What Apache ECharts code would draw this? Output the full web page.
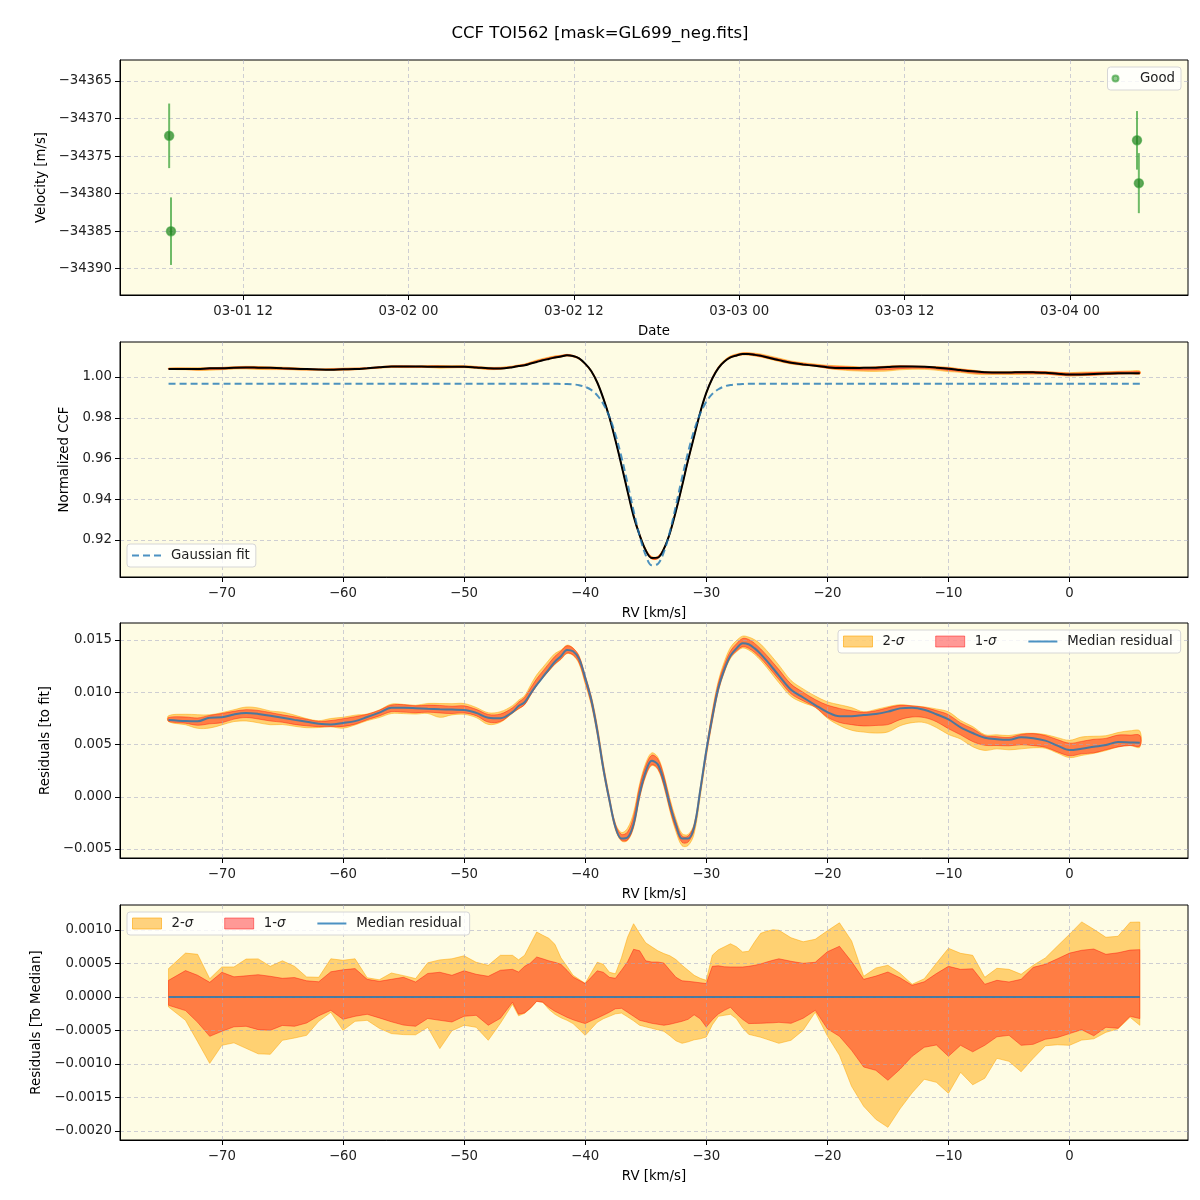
<!DOCTYPE html>
<html>
<head>
<meta charset="utf-8">
<script src="https://cdn.jsdelivr.net/npm/echarts@6/dist/echarts.min.js"></script>
<style>
  html, body { margin: 0; background: #fff; }
  #main { width: 1200px; height: 1200px; }
</style>
</head>
<body>
<div id="main"></div>
<script>
// ---- panel 1 : velocity vs date
const obsDates = ['2021-03-01T06:38:00Z', '2021-03-01T06:46:00Z', '2021-03-04T04:52:00Z', '2021-03-04T05:00:00Z'];
const obsVel = [-34372.3, -34385.0, -34372.9, -34378.6];
const obsErr = [4.3, 4.5, 3.9, 4.0];
const dateTicks = ['2021-03-01T12:00:00Z', '2021-03-02T00:00:00Z', '2021-03-02T12:00:00Z',
                   '2021-03-03T00:00:00Z', '2021-03-03T12:00:00Z', '2021-03-04T00:00:00Z'];
const dateMin = '2021-03-01T03:04:00Z', dateMax = '2021-03-04T08:34:00Z';
const velTicks = [-34390, -34385, -34380, -34375, -34370, -34365];

// ---- RV grid shared by the CCF panels
const rv = [-74.4, -73, -72, -71, -70, -69, -68, -67, -66, -65, -64, -63, -62, -61, -60, -59, -58, -57, -56, -55,
  -54, -53, -52, -51, -50, -49, -48, -47, -46,
  -45.5, -45, -44.5, -44, -43.5, -43, -42.5, -42, -41.5, -41, -40.5, -40, -39.5, -39, -38.5, -38, -37.5, -37,
  -36.5, -36, -35.5, -35, -34.5, -34, -33.5, -33, -32.5, -32, -31.5, -31, -30.5, -30, -29.5, -29, -28.5, -28,
  -27.5, -27, -26.5, -26, -25.5, -25, -24.5, -24,
  -23, -22, -21, -20, -19, -18, -17, -16, -15, -14, -13, -12, -11, -10, -9, -8, -7, -6, -5, -4, -3, -2, -1,
  0, 1, 2, 3, 4, 5, 5.8];
const rvTicks = [-70, -60, -50, -40, -30, -20, -10, 0];

// normalized CCF (median) and gaussian fit
const ccf = [1.0040, 1.0039, 1.0039, 1.0043, 1.0043, 1.0046, 1.0047, 1.0046, 1.0045, 1.0043, 1.0041, 1.0039,
  1.0037, 1.0036, 1.0038, 1.0039, 1.0043, 1.0048, 1.0052, 1.0052, 1.0052, 1.0051, 1.0051, 1.0050, 1.0050,
  1.0047, 1.0043, 1.0042, 1.0048,
  1.0054, 1.0058, 1.0066, 1.0074, 1.0082, 1.0089, 1.0096, 1.0101, 1.0107, 1.0103, 1.0092, 1.0066, 1.0030,
  0.9973, 0.9895, 0.9802, 0.9689, 0.9567, 0.9439, 0.9317, 0.9223, 0.9149, 0.9111, 0.9113, 0.9156, 0.9234,
  0.9343, 0.9465, 0.9592, 0.9709, 0.9826, 0.9922, 0.9993, 1.0044, 1.0076, 1.0096, 1.0106, 1.0113, 1.0113,
  1.0109, 1.0104, 1.0097, 1.0090, 1.0083,
  1.0070, 1.0062, 1.0055, 1.0048, 1.0044, 1.0044, 1.0045, 1.0046, 1.0049, 1.0052, 1.0052, 1.0050, 1.0046,
  1.0041, 1.0034, 1.0028, 1.0024, 1.0022, 1.0022, 1.0024, 1.0023, 1.0021, 1.0016, 1.0012, 1.0013, 1.0015,
  1.0017, 1.0019, 1.0019, 1.0019];
const gaussFit = [0.9967, 0.9967, 0.9967, 0.9967, 0.9967, 0.9967, 0.9967, 0.9967, 0.9967, 0.9967, 0.9967,
  0.9967, 0.9967, 0.9967, 0.9967, 0.9967, 0.9967, 0.9967, 0.9967, 0.9967, 0.9967, 0.9967, 0.9967, 0.9967,
  0.9967, 0.9967, 0.9967, 0.9967, 0.9967,
  0.9967, 0.9967, 0.9967, 0.9967, 0.9967, 0.9967, 0.9967, 0.9966, 0.9966, 0.9964, 0.9960, 0.9952, 0.9937,
  0.9910, 0.9868, 0.9805, 0.9718, 0.9607, 0.9478, 0.9343, 0.9220, 0.9125, 0.9076, 0.9082, 0.9141, 0.9242,
  0.9370, 0.9505, 0.9631, 0.9738, 0.9820, 0.9878, 0.9917, 0.9940, 0.9954, 0.9961, 0.9964, 0.9966, 0.9967,
  0.9967, 0.9967, 0.9967, 0.9967, 0.9967,
  0.9967, 0.9967, 0.9967, 0.9967, 0.9967, 0.9967, 0.9967, 0.9967, 0.9967, 0.9967, 0.9967, 0.9967, 0.9967,
  0.9967, 0.9967, 0.9967, 0.9967, 0.9967, 0.9967, 0.9967, 0.9967, 0.9967, 0.9967, 0.9967, 0.9967, 0.9967,
  0.9967, 0.9967, 0.9967, 0.9967];

// median residual to the fit
const medResid = [0.00734, 0.00724, 0.00722, 0.00757, 0.00760, 0.00788, 0.00802, 0.00793, 0.00775, 0.00756,
  0.00736, 0.00718, 0.00699, 0.00692, 0.00706, 0.00724, 0.00763, 0.00805, 0.00851, 0.00852, 0.00848, 0.00842,
  0.00837, 0.00834, 0.00831, 0.00803, 0.00757, 0.00752, 0.00810,
  0.00868, 0.00905, 0.00990, 0.01070, 0.01145, 0.01220, 0.01292, 0.01345, 0.01405, 0.01392, 0.01320, 0.01140,
  0.00930, 0.00630, 0.00270, -0.00030, -0.00290, -0.00400, -0.00390, -0.00260, 0.00030, 0.00240, 0.00345,
  0.00310, 0.00150, -0.00080, -0.00270, -0.00400, -0.00400, -0.00290, 0.00060, 0.00440, 0.00760, 0.01040,
  0.01220, 0.01350, 0.01420, 0.01470, 0.01460, 0.01420, 0.01365, 0.01300, 0.01230, 0.01160,
  0.01025, 0.00950, 0.00878, 0.00810, 0.00770, 0.00770, 0.00782, 0.00792, 0.00815, 0.00846, 0.00852, 0.00833,
  0.00790, 0.00740, 0.00665, 0.00610, 0.00565, 0.00550, 0.00545, 0.00570, 0.00560, 0.00537, 0.00490, 0.00447,
  0.00460, 0.00478, 0.00495, 0.00524, 0.00520, 0.00517];

// spread around the median, in units of 1e-4
const hi2 = [4.24, 6.55, 6.37, 2.72, 4.48, 4.48, 5.66, 5.69, 4.58, 5.40, 4.58, 2.99, 2.94, 5.70, 5.48, 5.70, 2.87,
  2.57, 3.58, 3.19, 2.75, 5.10, 5.54, 5.70, 6.15, 5.18, 4.73, 6.22, 6.22,
  5.55, 6.22, 7.97, 9.70, 9.21, 8.76, 7.87, 5.85, 4.58, 3.24, 2.64, 2.04, 3.61, 5.18, 4.88, 3.69, 3.46, 5.85,
  8.91, 10.93, 9.46, 8.09, 7.49, 6.90, 6.48, 6.15, 5.58, 4.73, 3.99, 3.24, 2.79, 2.49, 6.22, 7.04, 7.49, 7.94,
  7.49, 6.72, 6.82, 8.24, 9.51, 9.81, 10.03, 9.96,
  8.84, 8.24, 8.61, 9.88, 11.07, 8.37, 3.09, 4.33, 4.73, 3.54, 1.90, 2.72, 5.03, 7.27, 6.52, 6.22, 2.94, 4.28,
  4.13, 3.39, 4.73, 5.82, 7.60, 9.36, 11.21, 10.10, 8.91, 9.06, 11.15, 11.19];
const hi1 = [2.49, 3.94, 3.24, 2.19, 3.69, 3.01, 3.16, 3.33, 3.09, 2.79, 2.90, 2.42, 2.27, 3.76, 4.06, 4.24, 2.64,
  2.34, 2.64, 2.94, 2.24, 3.51, 3.69, 3.24, 3.91, 3.39, 3.09, 3.99, 4.13,
  3.73, 4.58, 5.10, 5.97, 5.70, 5.40, 5.18, 4.88, 3.99, 2.99, 2.49, 2.00, 2.94, 3.91, 3.69, 2.94, 2.79, 3.99,
  5.25, 7.12, 6.90, 5.40, 5.22, 5.22, 5.07, 3.99, 2.94, 2.42, 2.34, 2.24, 2.12, 2.00, 4.58, 4.66, 4.51, 4.48,
  4.48, 4.48, 4.58, 4.73, 4.94, 5.22, 5.48, 5.70,
  5.33, 5.03, 5.18, 6.75, 7.57, 5.28, 2.64, 3.12, 3.73, 2.87, 1.75, 2.27, 3.49, 4.58, 4.13, 4.21, 1.90, 2.49,
  2.24, 2.64, 4.43, 4.88, 5.70, 6.55, 6.97, 7.16, 6.37, 6.60, 7.00, 7.07];
const lo1 = [-1.24, -2.03, -3.78, -5.87, -5.12, -4.45, -4.37, -4.87, -4.97, -4.25, -4.37, -3.88, -2.81, -1.99,
  -3.33, -2.88, -2.58, -3.12, -3.70, -4.19, -4.37, -3.21, -3.48, -3.73, -2.88, -2.73, -4.22, -3.18, -0.79,
  -2.58, -2.37, -1.61, -0.64, -0.79, -1.54, -2.13, -2.58, -3.03, -3.40, -3.70, -3.97, -3.55, -3.15, -2.73,
  -2.28, -1.76, -1.69, -2.28, -2.88, -3.48, -3.70, -3.93, -4.07, -4.22, -4.07, -3.85, -3.63, -3.33, -2.66,
  -3.25, -4.48, -3.40, -2.54, -1.99, -1.54, -2.51, -3.33, -3.97, -3.94, -3.93, -3.88, -3.85, -3.78,
  -3.93, -3.18, -1.99, -4.75, -5.87, -7.96, -10.45, -10.94, -12.43, -10.79, -8.85, -7.51, -7.16, -8.85, -7.21,
  -8.18, -7.21, -5.94, -5.72, -7.21, -7.06, -6.31, -6.04, -5.46, -4.88, -5.79, -4.52, -4.67, -2.88, -3.22];
const lo2 = [-1.49, -3.48, -6.67, -9.90, -7.21, -6.84, -7.66, -8.48, -8.55, -6.46, -6.12, -5.72, -3.63, -2.28,
  -4.97, -3.63, -3.48, -4.67, -5.46, -5.61, -5.64, -4.52, -7.70, -5.04, -4.22, -4.52, -6.46, -3.93, -1.09,
  -2.81, -2.43, -1.69, -0.64, -0.79, -1.84, -2.58, -3.10, -3.48, -3.97, -4.82, -5.72, -4.75, -3.78, -3.25,
  -2.88, -2.51, -2.40, -2.96, -3.55, -4.22, -4.45, -4.67, -4.90, -5.12, -5.79, -6.54, -6.91, -6.69, -6.39,
  -6.24, -5.97, -4.15, -2.88, -2.73, -2.58, -3.25, -4.60, -5.57, -5.79, -6.01, -6.31, -6.61, -6.91,
  -6.46, -4.97, -2.28, -5.79, -8.70, -13.33, -16.31, -18.25, -19.45, -16.69, -14.30, -12.28, -12.73, -14.37,
  -11.24, -13.10, -12.13, -9.15, -9.60, -11.16, -9.15, -7.28, -7.13, -7.21, -6.43, -6.24, -5.27, -4.75, -3.03,
  -4.22];

const ccfTicks = [0.92, 0.94, 0.96, 0.98, 1.00];
const resTicks = [-0.005, 0, 0.005, 0.010, 0.015];
const medTicks = [-0.002, -0.0015, -0.001, -0.0005, 0, 0.0005, 0.001];

// ---------------------------------------------------------------
const FONT = 'DejaVu Sans';
const BG = '#fefce4';
const GRIDLINE = 'rgba(165,168,195,0.55)';
const C2 = 'rgba(255,165,0,0.5)';
const C1 = 'rgba(255,0,0,0.4)';
const BLUE = 'rgba(31,119,180,0.8)';
const SMOOTH = 0.35;

const ms = s => new Date(s).getTime();
const pad2 = n => String(n).padStart(2, '0');
function fmt(v, d) {
  const s = Math.abs(v) < 1e-12 ? (0).toFixed(d) : v.toFixed(d);
  return s.replace('-', '\u2212');
}
const E4 = 1e-4;
const pairs = (ys) => rv.map((x, i) => [x, ys[i]]);

function baseAxis(gi, extra) {
  return Object.assign({
    gridIndex: gi,
    type: 'value',
    z: 3,
    nameLocation: 'middle',
    nameTextStyle: { fontFamily: FONT, fontSize: 13.3, color: '#000' },
    axisLine: { show: true, onZero: false, lineStyle: { color: '#000', width: 1 } },
    axisTick: { show: true, length: 5, lineStyle: { color: '#000' } },
    axisLabel: { fontFamily: FONT, fontSize: 13.3, color: '#222', margin: 10 },
    splitLine: { show: true, lineStyle: { color: GRIDLINE, type: [4, 3], width: 1 } }
  }, extra);
}

function rvAxis(gi) {
  const ax = baseAxis(gi, { min: -78.41, max: 9.78, name: 'RV [km/s]', nameGap: 30 });
  ax.axisTick.customValues = rvTicks;
  ax.axisLabel.customValues = rvTicks;
  ax.axisLabel.formatter = v => fmt(v, 0);
  return ax;
}

function yAxisFor(gi, min, max, ticks, name, gap, dec) {
  const ax = baseAxis(gi, { min: min, max: max, name: name, nameGap: gap });
  ax.axisTick.customValues = ticks;
  ax.axisLabel.customValues = ticks;
  ax.axisLabel.margin = 8;
  ax.axisLabel.formatter = v => fmt(v, dec);
  return ax;
}

// filled band between lower and upper, one polygon through the axis scales
function band(gi, name, lower, upper, color, smooth) {
  return {
    name: name, type: 'custom', xAxisIndex: gi, yAxisIndex: gi, z: 2, silent: true,
    itemStyle: { color: color },
    data: [[rv[0], lower[0]]],
    renderItem: function (params, api) {
      const pts = [];
      for (let i = 0; i < rv.length; i++) pts.push(api.coord([rv[i], upper[i]]));
      for (let i = rv.length - 1; i >= 0; i--) pts.push(api.coord([rv[i], lower[i]]));
      return {
        type: 'polygon',
        shape: { points: pts, smooth: smooth },
        style: { fill: color, stroke: color, lineWidth: 1 }
      };
    }
  };
}

const res2lo = medResid.map((m, i) => m + lo2[i] * E4);
const res2hi = medResid.map((m, i) => m + hi2[i] * E4);
const res1lo = medResid.map((m, i) => m + lo1[i] * E4);
const res1hi = medResid.map((m, i) => m + hi1[i] * E4);
const ccf2lo = ccf.map((m, i) => m + lo2[i] * E4);
const ccf2hi = ccf.map((m, i) => m + hi2[i] * E4);
const ccf1lo = ccf.map((m, i) => m + lo1[i] * E4);
const ccf1hi = ccf.map((m, i) => m + hi1[i] * E4);
const off2lo = lo2.map(v => v * E4), off2hi = hi2.map(v => v * E4);
const off1lo = lo1.map(v => v * E4), off1hi = hi1.map(v => v * E4);
const zeroLine = rv.map(() => 0);

const gridBox = top => ({
  left: 120, width: 1068, top: top, height: 235, show: true,
  backgroundColor: BG, borderColor: '#000', borderWidth: 1
});

const legendBase = {
  orient: 'horizontal', z: 10,
  backgroundColor: 'rgba(255,255,255,0.8)', borderColor: '#d6d6d6', borderWidth: 1, borderRadius: 3,
  itemWidth: 29, itemHeight: 11,
  textStyle: {
    fontFamily: FONT, fontSize: 13.3, color: '#222', padding: [0, 0, 0, 5],
    rich: { i: { fontFamily: FONT, fontStyle: 'italic', fontSize: 13.3, color: '#222' } }
  },
  formatter: n => n.replace('\u03c3', '{i|\u03c3}')
};
// line entries: hide the marker that ECharts adds to line icons
const hideMarker = { opacity: 0 };
const sigmaLegendData = [
  { name: '2-\u03c3', icon: 'rect', itemStyle: { color: C2, borderColor: 'rgba(255,165,0,0.6)', borderWidth: 1 } },
  { name: '1-\u03c3', icon: 'rect', itemStyle: { color: C1, borderColor: 'rgba(255,0,0,0.45)', borderWidth: 1 } },
  { name: 'Median residual', itemStyle: hideMarker }
];

const dateTickMs = dateTicks.map(ms);
const p1x = baseAxis(0, { min: ms(dateMin), max: ms(dateMax), name: 'Date', nameGap: 30 });
p1x.axisTick.customValues = dateTickMs;
p1x.axisLabel.customValues = dateTickMs;
p1x.axisLabel.formatter = v => {
  const d = new Date(v);
  return pad2(d.getUTCMonth() + 1) + '-' + pad2(d.getUTCDate()) + ' ' + pad2(d.getUTCHours());
};

const option = {
  animation: false,
  backgroundColor: '#fff',
  textStyle: { fontFamily: FONT },
  title: {
    text: 'CCF TOI562 [mask=GL699_neg.fits]', left: 'center', top: 20,
    textStyle: { fontFamily: FONT, fontSize: 16.5, fontWeight: 'normal', color: '#000' }
  },
  grid: [gridBox(60), gridBox(342), gridBox(623), gridBox(905)],
  xAxis: [p1x, rvAxis(1), rvAxis(2), rvAxis(3)],
  yAxis: [
    yAxisFor(0, -34393.5, -34362.2, velTicks, 'Velocity [m/s]', 72, 0),
    yAxisFor(1, 0.9018, 1.0172, ccfTicks, 'Normalized CCF', 46, 2),
    yAxisFor(2, -0.00586, 0.01663, resTicks, 'Residuals [to fit]', 67, 3),
    yAxisFor(3, -0.002134, 0.001373, medTicks, 'Residuals [To Median]', 76, 4)
  ],
  legend: [
    Object.assign({}, legendBase, {
      right: 19, top: 67, padding: [5, 6, 5, 4], itemHeight: 6,
      data: [{ name: 'Good', icon: 'circle', itemStyle: { color: 'rgba(40,150,40,0.65)' } }]
    }),
    Object.assign({}, legendBase, {
      left: 127, top: 544, padding: [5, 6, 5, 4],
      data: [{ name: 'Gaussian fit', itemStyle: hideMarker }]
    }),
    Object.assign({}, legendBase, {
      left: 838, top: 630, padding: [5, 8, 5, 5], itemGap: 31,
      data: sigmaLegendData
    }),
    Object.assign({}, legendBase, {
      left: 127, top: 912, padding: [5, 8, 5, 5], itemGap: 31,
      data: sigmaLegendData
    })
  ],
  series: [
    // panel 1
    {
      name: 'errbars', type: 'custom', xAxisIndex: 0, yAxisIndex: 0, z: 4, silent: true,
      data: obsDates.map((d, i) => [ms(d), obsVel[i] - obsErr[i], obsVel[i] + obsErr[i]]),
      encode: { x: 0, y: [1, 2] },
      renderItem: function (params, api) {
        const t = api.value(0);
        const a = api.coord([t, api.value(1)]);
        const b = api.coord([t, api.value(2)]);
        return {
          type: 'line',
          shape: { x1: a[0], y1: a[1], x2: b[0], y2: b[1] },
          style: { stroke: 'rgba(50,160,50,0.7)', lineWidth: 2 }
        };
      }
    },
    {
      name: 'Good', type: 'scatter', xAxisIndex: 0, yAxisIndex: 0, z: 5,
      symbolSize: 9,
      itemStyle: { color: 'rgba(20,125,20,0.85)', borderColor: 'rgba(60,160,60,0.8)', borderWidth: 1.5 },
      data: obsDates.map((d, i) => [ms(d), obsVel[i]])
    },
    // panel 2
    band(1, 'ccf_2s', ccf2lo, ccf2hi, C2, SMOOTH),
    band(1, 'ccf_1s', ccf1lo, ccf1hi, C1, SMOOTH),
    {
      name: 'ccf', type: 'line', xAxisIndex: 1, yAxisIndex: 1, z: 5, symbol: 'none', smooth: SMOOTH,
      lineStyle: { color: '#000', width: 2 }, data: pairs(ccf)
    },
    {
      name: 'Gaussian fit', type: 'line', xAxisIndex: 1, yAxisIndex: 1, z: 6, symbol: 'none', smooth: SMOOTH,
      itemStyle: { color: BLUE },
      lineStyle: { color: BLUE, width: 2, type: [7, 4] }, data: pairs(gaussFit)
    },
    // panel 3
    band(2, '2-\u03c3', res2lo, res2hi, C2, SMOOTH),
    band(2, '1-\u03c3', res1lo, res1hi, C1, SMOOTH),
    {
      name: 'Median residual', type: 'line', xAxisIndex: 2, yAxisIndex: 2, z: 5, symbol: 'none', smooth: SMOOTH,
      itemStyle: { color: BLUE },
      lineStyle: { color: BLUE, width: 2 }, data: pairs(medResid)
    },
    // panel 4
    band(3, '2-\u03c3', off2lo, off2hi, C2, 0),
    band(3, '1-\u03c3', off1lo, off1hi, C1, 0),
    {
      name: 'Median residual', type: 'line', xAxisIndex: 3, yAxisIndex: 3, z: 5, symbol: 'none',
      itemStyle: { color: BLUE },
      lineStyle: { color: BLUE, width: 2 }, data: pairs(zeroLine)
    }
  ]
};

const chart = echarts.init(document.getElementById('main'), null, { renderer: 'canvas' });
chart.setOption(option);
</script>
</body>
</html>
